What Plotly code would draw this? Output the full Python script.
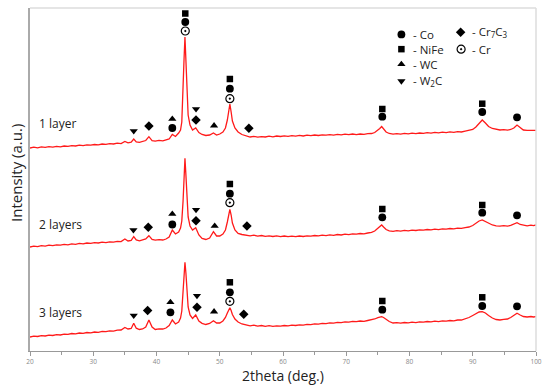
import plotly.graph_objects as go

# 2theta grid (deg.)
TWO_THETA = [
    20.0, 20.6, 21.2, 21.8, 22.4, 23.0, 23.6, 24.2, 24.8, 25.4,
    26.0, 26.6, 27.2, 27.8, 28.4, 29.0, 29.6, 30.2, 30.8, 31.4,
    32.0, 32.6, 33.2, 33.8, 34.4, 35.0, 35.5, 36.0, 36.4, 36.8,
    37.3, 37.8, 38.3, 38.8, 39.3, 39.8, 40.4, 41.0, 41.5, 42.0,
    42.5, 43.0, 43.5, 43.8, 44.0, 44.2, 44.35, 44.5, 44.65, 44.8,
    45.0, 45.3, 45.7, 46.2, 46.7, 47.2, 47.8, 48.4, 49.0, 49.5,
    50.0, 50.5, 50.9, 51.2, 51.4, 51.6, 51.8, 52.0, 52.4, 52.9,
    53.5, 54.2, 54.8, 55.4, 56.0, 56.6, 57.2, 57.8, 58.4, 59.0,
    59.6, 60.2, 60.8, 61.4, 62.0, 62.6, 63.2, 63.8, 64.4, 65.0,
    65.6, 66.2, 66.8, 67.4, 68.0, 68.6, 69.2, 69.8, 70.4, 71.0,
    71.6, 72.2, 72.8, 73.4, 74.0, 74.5, 75.0, 75.3, 75.6, 75.9,
    76.3, 76.8, 77.4, 78.0, 78.6, 79.2, 79.8, 80.4, 81.0, 81.6,
    82.2, 82.8, 83.4, 84.0, 84.6, 85.2, 85.8, 86.4, 87.0, 87.6,
    88.2, 88.8, 89.4, 90.0, 90.5, 91.0, 91.5, 92.0, 92.5, 93.1,
    93.7, 94.3, 94.9, 95.5, 96.0, 96.5, 97.0, 97.5, 98.0, 98.6,
    99.2, 99.6, 100.0,
]

# Intensity (a.u., stacked as displayed)
LAYER_1 = [
    203.0, 203.8, 203.2, 204.1, 203.6, 204.4, 203.9, 204.7, 204.2, 205.0,
    204.6, 205.4, 205.0, 205.9, 205.3, 206.2, 205.8, 206.5, 206.1, 207.0,
    206.6, 207.4, 207.0, 207.9, 207.4, 209.5, 208.2, 208.8, 212.0, 209.0,
    208.6, 209.3, 210.5, 214.3, 210.4, 209.8, 210.6, 210.2, 211.0, 212.0,
    216.5, 214.5, 218.0, 221.0, 229.0, 256.0, 291.0, 314.0, 291.0, 256.0,
    236.0, 226.0, 221.0, 223.0, 218.5, 216.5, 215.5, 216.0, 218.0, 216.0,
    217.0, 219.0, 223.0, 231.0, 241.0, 247.0, 239.0, 230.0, 223.0, 219.0,
    216.5, 215.5, 214.0, 214.6, 213.8, 214.4, 214.0, 214.8, 214.2, 215.0,
    214.5, 215.2, 214.7, 215.4, 214.9, 215.6, 215.0, 215.8, 215.3, 216.0,
    215.5, 216.2, 215.8, 216.4, 215.9, 216.6, 216.1, 216.8, 216.3, 217.0,
    216.4, 217.0, 216.6, 217.3, 217.5, 218.5, 220.5, 222.5, 224.5, 222.0,
    219.0, 217.5, 216.8, 217.4, 216.9, 217.6, 217.1, 217.8, 217.3, 218.0,
    217.6, 218.3, 217.9, 218.6, 218.1, 218.8, 218.4, 219.1, 218.7, 219.4,
    219.0, 219.8, 220.3, 221.5, 224.0, 228.0, 231.0, 228.0, 224.5, 222.5,
    221.5, 221.0, 221.4, 220.8, 221.5, 223.0, 226.0, 223.0, 221.0, 220.6,
    220.9, 220.4, 220.6,
]
LAYER_2 = [
    104.0, 104.9, 104.4, 105.3, 104.9, 105.8, 105.3, 106.2, 105.8, 106.6,
    106.2, 107.1, 106.7, 107.6, 107.1, 108.0, 107.6, 108.4, 108.0, 108.8,
    108.4, 109.2, 108.8, 109.6, 109.4, 112.0, 110.0, 110.6, 114.3, 111.0,
    110.2, 110.8, 112.0, 115.3, 111.5, 110.8, 111.4, 111.0, 112.0, 114.0,
    121.0, 117.0, 119.0, 123.0, 130.0, 150.0, 175.0, 192.7, 176.0, 152.0,
    134.0, 125.0, 121.0, 123.3, 116.0, 112.5, 111.5, 113.0, 119.3, 115.0,
    115.0, 117.0, 121.0, 129.0, 137.0, 141.7, 136.0, 128.0, 121.0, 117.5,
    116.5, 116.0, 115.2, 115.8, 114.9, 115.5, 114.6, 115.2, 114.5, 115.1,
    114.4, 115.0, 114.3, 114.9, 114.3, 115.0, 114.5, 115.2, 114.8, 115.5,
    115.1, 115.8, 115.4, 116.1, 115.7, 116.5, 116.0, 116.8, 116.4, 117.2,
    116.8, 117.5, 117.2, 118.0, 118.6, 120.0, 122.5, 124.5, 126.0, 124.0,
    121.5, 120.2, 119.6, 120.3, 119.9, 120.6, 120.2, 120.9, 120.5, 121.2,
    120.8, 121.5, 121.1, 121.8, 121.4, 122.1, 121.8, 122.5, 122.1, 122.8,
    122.6, 123.4, 124.0, 125.5, 127.5, 130.0, 131.0, 129.5, 127.5, 126.0,
    125.2, 124.8, 125.3, 124.9, 125.6, 126.8, 128.3, 126.5, 125.6, 125.2,
    125.8, 125.4, 126.0,
]
LAYER_3 = [
    14.0, 14.9, 14.5, 15.4, 15.0, 15.9, 15.5, 16.4, 16.0, 16.9,
    16.6, 17.5, 17.1, 18.0, 17.6, 18.5, 18.1, 19.0, 18.7, 19.6,
    19.3, 20.2, 19.9, 20.9, 21.0, 23.5, 22.0, 22.5, 27.7, 22.8,
    21.5, 22.0, 24.0, 31.0, 24.0, 21.5, 22.2, 22.0, 23.0, 25.5,
    31.0, 27.0, 29.0, 33.0, 40.0, 58.0, 78.0, 88.7, 78.0, 58.0,
    44.0, 36.0, 32.5, 36.0, 30.0, 27.7, 26.5, 27.5, 30.3, 28.0,
    28.0, 30.0, 33.5, 38.0, 41.5, 43.3, 40.5, 36.5, 32.0, 29.0,
    27.0, 26.0, 25.2, 25.8, 24.9, 25.5, 24.7, 25.3, 24.6, 25.2,
    24.8, 25.5, 25.1, 25.8, 25.5, 26.2, 25.9, 26.7, 26.4, 27.2,
    26.9, 27.6, 27.3, 28.1, 27.8, 28.6, 28.3, 29.1, 28.8, 29.6,
    29.3, 30.0, 29.7, 30.5, 31.0, 32.0, 33.3, 34.0, 34.3, 33.5,
    31.5, 29.5, 28.0, 28.3, 27.8, 28.5, 28.1, 28.8, 28.4, 29.1,
    28.8, 29.5, 29.1, 29.8, 29.4, 30.1, 29.8, 30.5, 30.2, 31.0,
    31.0, 32.0, 33.5, 35.5, 37.5, 39.0, 39.3, 38.0, 35.5, 33.0,
    31.5, 31.0, 31.6, 32.0, 33.5, 35.5, 37.7, 36.0, 34.5, 34.0,
    34.5, 34.0, 34.3,
]
LAYER_NAMES = ["1 layer", "2 layers", "3 layers"]
LAYER_LABEL_Y = [217.0, 116.0, 28.3]

# Phase identification markers (2theta, height above the peak)
CO_X = [42.5, 44.55, 51.6, 75.7, 91.5, 97.0,
        42.5, 51.6, 75.7, 91.5, 97.0,
        42.2, 51.6, 75.7, 91.5, 97.0]
CO_Y = [223.0, 329.0, 262.3, 234.3, 239.0, 233.7,
        126.5, 157.3, 133.7, 138.3, 135.7,
        38.7, 58.7, 41.3, 45.0, 44.7]
NIFE_X = [44.55, 51.6, 75.7, 91.5, 51.6, 75.7, 91.5, 51.6, 75.7, 91.5]
NIFE_Y = [337.5, 272.0, 242.0, 247.3, 167.0, 142.0, 146.0, 68.7, 50.0, 53.7]
CR_X = [44.55, 51.6, 51.6, 51.6]
CR_Y = [320.0, 252.3, 148.3, 49.7]
WC_X = [42.5, 49.1, 42.5, 49.2, 42.2, 49.1]
WC_Y = [232.0, 225.3, 137.0, 125.0, 48.7, 39.3]
W2C_X = [36.4, 46.25, 36.35, 46.25, 36.4, 46.4]
W2C_Y = [220.0, 242.0, 121.0, 141.3, 35.5, 55.3]
CR7C3_X = [38.8, 46.25, 54.6, 38.7, 46.25, 54.3, 38.6, 46.4, 53.8]
CR7C3_Y = [225.0, 231.0, 222.7, 123.7, 130.3, 125.0, 40.5, 43.7, 36.7]

X_TICKS = [20, 30, 40, 50, 60, 70, 80, 90, 100]

PHASES = [
    ("Co", CO_X, CO_Y, "circle", 7.8, 0.734, 0.923),
    ("NiFe", NIFE_X, NIFE_Y, "square", 6.5, 0.734, 0.880),
    ("WC", WC_X, WC_Y, "triangle-up", 7.2, 0.734, 0.836),
    ("W<sub>2</sub>C", W2C_X, W2C_Y, "triangle-down", 7.2, 0.734, 0.787),
    ("Cr<sub>7</sub>C<sub>3</sub>", CR7C3_X, CR7C3_Y, "diamond", 7.3, 0.851, 0.929),
    ("Cr", CR_X, CR_Y, "circle-dot", 8, 0.852, 0.880),
]

fig = go.Figure()
for ys in (LAYER_1, LAYER_2, LAYER_3):
    fig.add_trace(go.Scatter(x=TWO_THETA, y=ys, mode="lines",
                             line=dict(color="#ff1a1a", width=1.3),
                             showlegend=False, hoverinfo="skip"))

for name, xs, ys, sym, size, lx, ly in PHASES:
    open_sym = sym == "circle-dot"
    mk = dict(symbol=sym, size=size, color="white" if open_sym else "black",
              line=dict(color="black", width=1.2 if open_sym else 0))
    fig.add_trace(go.Scatter(x=xs, y=ys, mode="markers", marker=mk,
                             showlegend=False, name=name))
    # legend key on overlay axes
    fig.add_trace(go.Scatter(x=[lx], y=[ly], mode="markers", marker=mk,
                             xaxis="x2", yaxis="y2", showlegend=False,
                             hoverinfo="skip"))
    fig.add_annotation(x=lx + 0.018, y=ly, xref="paper", yref="paper",
                       text="- " + name, showarrow=False, xanchor="left",
                       yanchor="middle",
                       font=dict(family="Open Sans", size=11.5, color="#222"))

for name, ly in zip(LAYER_NAMES, LAYER_LABEL_Y):
    fig.add_annotation(x=21.1, y=ly, text=name, showarrow=False,
                       xanchor="left", yanchor="bottom",
                       font=dict(family="Open Sans", size=12, color="#222"))

fig.add_annotation(x=-0.029, y=0.52, xref="paper", yref="paper",
                   text="Intensity (a.u.)", textangle=-90, showarrow=False,
                   xanchor="center", yanchor="middle",
                   font=dict(family="Open Sans", size=15, color="#222"))
fig.add_annotation(x=0.5, y=-0.072, xref="paper", yref="paper",
                   text="2theta (deg.)", showarrow=False,
                   xanchor="center", yanchor="middle",
                   font=dict(family="Open Sans", size=14, color="#222"))

fig.add_shape(type="line", xref="paper", yref="paper", x0=0, x1=1, y0=1, y1=1,
              line=dict(color="#dcdcdc", width=1.5))
fig.add_shape(type="line", xref="paper", yref="paper", x0=1, x1=1, y0=0, y1=1,
              line=dict(color="#dcdcdc", width=1.5))

fig.update_layout(
    width=550, height=388,
    margin=dict(l=30, r=9, t=8, b=37),
    paper_bgcolor="white", plot_bgcolor="white",
    xaxis=dict(range=[20, 100], tickvals=X_TICKS, ticks="outside", ticklen=4,
               tickcolor="#999", tickwidth=1, showline=True, linecolor="#999",
               linewidth=1, showgrid=False, zeroline=False,
               tickfont=dict(family="Open Sans", size=6.5, color="#888"),
               minor=dict(dtick=5, ticks="outside", ticklen=3, tickcolor="#999")),
    yaxis=dict(range=[0, 343], showticklabels=False, ticks="", showline=True,
               linecolor="#aaa", linewidth=1.5, showgrid=False, zeroline=False),
    xaxis2=dict(range=[0, 1], overlaying="x", visible=False),
    yaxis2=dict(range=[0, 1], overlaying="y", visible=False),
)

fig.write_html("out.html",
               config={"displayModeBar": False},
               post_script="document.body.style.margin='0';"
                           "document.body.style.overflow='hidden';")
